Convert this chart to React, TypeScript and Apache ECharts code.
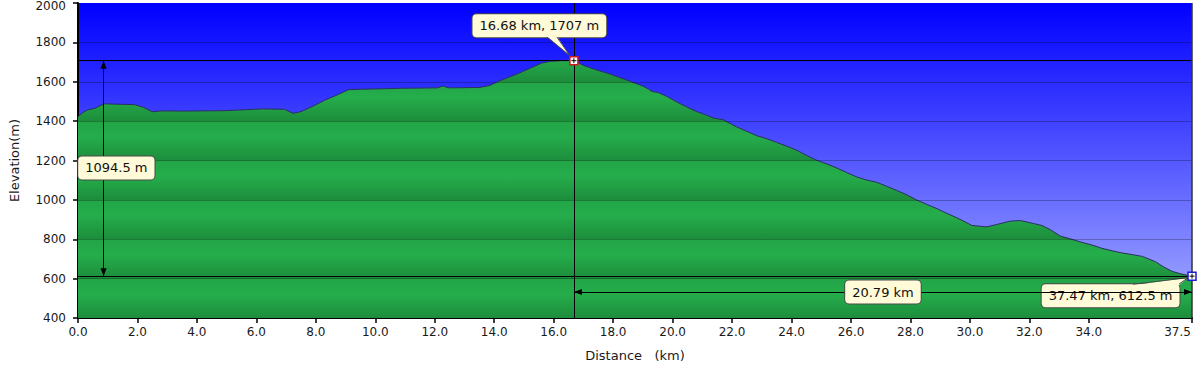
import React, { useEffect, useRef } from "react";
import * as echarts from "echarts";

// ---- data ----
const distanceKm = [
  0.0, 0.15, 0.33, 0.55, 0.72, 0.88, 1.3, 1.9, 2.2, 2.5, 2.8, 3.5, 4.2, 4.9, 5.5, 6.2, 6.95, 7.23, 7.5, 7.9,
  8.3, 8.7, 9.1, 9.5, 10.2, 10.9, 11.6, 12.1, 12.28, 12.45, 13.0, 13.5, 13.85, 14.07, 14.4, 14.75, 15.2, 15.6,
  15.9, 16.3, 16.68, 17.0, 17.4, 17.9, 18.4, 19.0, 19.2, 19.3, 19.5, 19.8, 20.13, 20.5, 20.8, 21.1, 21.37, 21.7,
  22.15, 22.5, 22.83, 23.2, 23.5, 23.85, 24.18, 24.5, 24.85, 25.2, 25.52, 25.85, 26.2, 26.5, 26.87, 27.2, 27.54,
  27.9, 28.2, 28.55, 28.9, 29.2, 29.56, 29.8, 30.07, 30.57, 30.9, 31.36, 31.7, 32.14, 32.42, 32.7, 33.04, 33.4,
  33.77, 34.1, 34.44, 34.8, 35.1, 35.5, 35.8, 36.24, 36.5, 36.8, 37.1, 37.47,
];
const elevationM = [
  1423, 1442, 1458, 1464, 1476, 1488, 1486, 1484, 1470, 1448, 1452, 1451, 1452, 1453, 1457, 1462, 1460, 1440, 1448, 1476,
  1506, 1532, 1560, 1562, 1564, 1567, 1568, 1569, 1579, 1569, 1570, 1571, 1581, 1597, 1618, 1638, 1668, 1695,
  1704, 1707, 1707, 1683, 1662, 1639, 1612, 1578, 1562, 1551, 1546, 1526, 1498, 1470, 1449, 1433, 1416, 1407,
  1371, 1348, 1326, 1309, 1292, 1272, 1252, 1226, 1201, 1182, 1162, 1139, 1116, 1102, 1089, 1069, 1048,
  1024, 1000, 977, 955, 933, 909, 891, 870, 863, 875, 892, 895, 880, 870, 849, 816, 801,
  784, 771, 754, 741, 731, 721, 713, 686, 661, 637, 624, 612.5,
];
const xTickValues = [0, 2, 4, 6, 8, 10, 12, 14, 16, 18, 20, 22, 24, 26, 28, 30, 32, 34, 37.47];
const yTickValues = [400, 600, 800, 1000, 1200, 1400, 1600, 1800, 2000];

const peakKm = 16.68;
const peakM = 1707;
const finishKm = 37.47;
const finishM = 612.5;

// annotation anchors (data units)
const climbArrowKm = 0.86;
const climbLabelKm = 1.29;
const climbLabelM = 1162;
const distArrowM = 532;

const FONT = '"DejaVu Sans", Verdana, sans-serif';

export default function App() {
  const ref = useRef<HTMLDivElement>(null);

  useEffect(() => {
    document.body.style.margin = "0";
    const el = ref.current!;
    const chart = echarts.init(el, null, { renderer: "svg" });
    const H = 368;
    const grid = { left: 77, right: 5, top: 3, bottom: 50 };
    const plotTop = grid.top;
    const plotBottom = H - grid.bottom;

    const nBands = yTickValues.length - 1;
    const bandStops: any[] = [];
    for (let i = 0; i < nBands; i++) {
      const a = i / nBands;
      const b = (i + 1) / nBands;
      bandStops.push({ offset: a + 0.0005, color: "#22a548" });
      bandStops.push({ offset: a + (b - a) * 0.4, color: "#25ad4b" });
      bandStops.push({ offset: b - 0.0005, color: "#1d8d3c" });
    }

    const gridLineStyle = { color: "rgba(0,0,0,0.26)", width: 1, type: "solid" };
    const blackLine = { color: "#000", width: 1, type: "solid" };
    const edgeLine = { color: "#333", width: 1.5, type: "solid" };
    const arrowPt = (coord: number[]) => ({
      coord,
      symbol: "triangle",
      symbolSize: [6, 8],
      symbolOffset: [0, 4],
      lineStyle: blackLine,
    });
    const plainPt = (coord: number[], ls: any) => ({ coord, symbol: "none", lineStyle: ls });
    const yMin = yTickValues[0];
    const yMax = yTickValues[yTickValues.length - 1];

    const axisText = { color: "#1a1a1a", fontFamily: FONT, fontSize: 12 };

    const option: any = {
      animation: false,
      grid: {
        ...grid,
        show: true,
        borderWidth: 0,
        backgroundColor: {
          type: "linear",
          x: 0,
          y: 0,
          x2: 0,
          y2: 1,
          colorStops: [
            { offset: 0, color: "#0000ff" },
            { offset: 1, color: "rgb(168,176,255)" },
          ],
        },
      },
      xAxis: {
        type: "value",
        min: 0,
        max: finishKm,
        name: "Distance   (km)",
        nameLocation: "middle",
        nameGap: 31,
        nameTextStyle: { color: "#1a1a1a", fontFamily: FONT, fontSize: 13 },
        axisLine: { show: true, onZero: false, lineStyle: { color: "#000", width: 2 } },
        axisTick: { show: true, length: 5, customValues: xTickValues, lineStyle: { color: "#000", width: 1.5 } },
        axisLabel: {
          ...axisText,
          margin: 8,
          customValues: xTickValues,
          formatter: (v: number) =>
            Math.abs(v - finishKm) < 1e-6 ? `{end|${v.toFixed(1)}}` : v.toFixed(1),
          rich: { end: { ...axisText, padding: [0, 29, 0, 0] } },
        },
        splitLine: { show: false },
      },
      yAxis: {
        type: "value",
        min: yMin,
        max: yMax,
        interval: 200,
        name: "Elevation(m)",
        nameLocation: "middle",
        nameGap: 57,
        nameTextStyle: { color: "#1a1a1a", fontFamily: FONT, fontSize: 13 },
        axisLine: { show: true, lineStyle: { color: "#000", width: 2 } },
        axisTick: { show: true, length: 5, lineStyle: { color: "#000", width: 1.5 } },
        axisLabel: {
          ...axisText,
          margin: 12,
          formatter: (v: number) => (v === yMax ? `{top|${v}}` : String(v)),
          rich: { top: { ...axisText, padding: [6, 0, 0, 0] } },
        },
        splitLine: { show: false },
      },
      series: [
        {
          type: "line",
          data: distanceKm.map((d, i) => [d, elevationM[i]]),
          symbol: "none",
          showSymbol: false,
          lineStyle: { color: "#2b3160", width: 1 },
          areaStyle: {
            opacity: 1,
            color: {
              type: "linear",
              x: 0,
              y: plotTop,
              x2: 0,
              y2: plotBottom,
              global: true,
              colorStops: bandStops,
            },
          },
          markLine: {
            silent: true,
            symbol: ["none", "none"],
            label: { show: false },
            lineStyle: blackLine,
            data: [
              ...yTickValues.slice(1, -1).map((v) => ({ yAxis: v, lineStyle: gridLineStyle })),
              { yAxis: peakM, lineStyle: blackLine },
              { yAxis: finishM, lineStyle: blackLine },
              [plainPt([peakKm, yMin], blackLine), plainPt([peakKm, yMax], blackLine)],
              [plainPt([finishKm, yMin], edgeLine), plainPt([finishKm, yMax], edgeLine)],
              [arrowPt([climbArrowKm, finishM]), arrowPt([climbArrowKm, peakM])],
              [arrowPt([peakKm, distArrowM]), arrowPt([finishKm, distArrowM])],
            ],
          },
        },
      ],
    };
    chart.setOption(option);

    const toPx = (p: number[]) => chart.convertToPixel({ seriesIndex: 0 }, p) as number[];
    const P = toPx([peakKm, peakM]);
    const E = toPx([finishKm, finishM]);
    const C = toPx([climbLabelKm, climbLabelM]);
    const D = toPx([(peakKm + finishKm) / 2, distArrowM]);

    const cream = "#fffad8";
    const border = "#4a4a4a";
    const boxStyle = {
      fill: "#111",
      font: `13px ${FONT}`,
      lineHeight: 15,
      backgroundColor: cream,
      borderColor: border,
      borderWidth: 1,
      borderRadius: 4,
      padding: [4, 7, 4, 7],
    };
    const fmtKm = (v: number) => v.toFixed(2) + " km";

    const marker = (pt: number[], color: string, z: number) => [
      {
        type: "rect",
        z,
        shape: { x: pt[0] - 4, y: pt[1] - 4, width: 8, height: 8 },
        style: { fill: "#fff", stroke: color, lineWidth: 1.5 },
      },
      {
        type: "line",
        z: z + 1,
        shape: { x1: pt[0] - 2.5, y1: pt[1], x2: pt[0] + 2.5, y2: pt[1] },
        style: { stroke: "#000", lineWidth: 1 },
      },
      {
        type: "line",
        z: z + 1,
        shape: { x1: pt[0], y1: pt[1] - 2.5, x2: pt[0], y2: pt[1] + 2.5 },
        style: { stroke: "#000", lineWidth: 1 },
      },
    ];

    const peakBoxTop = P[1] - 46.5;
    const peakBoxBottom = peakBoxTop + 23;
    const endBoxTop = E[1] + 8;

    const graphic: any[] = [
      // peak callout
      {
        type: "text",
        z: 10,
        x: P[0] - 101.4,
        y: peakBoxTop,
        style: { ...boxStyle, text: `${fmtKm(peakKm)}, ${peakM} m`, align: "left", verticalAlign: "top" },
      },
      {
        type: "polygon",
        z: 11,
        shape: { points: [[P[0] - 27, peakBoxBottom - 1], [P[0] - 4, P[1] - 5], [P[0] - 17, peakBoxBottom - 1]] },
        style: { fill: cream },
      },
      {
        type: "polyline",
        z: 11,
        shape: { points: [[P[0] - 27, peakBoxBottom], [P[0] - 4, P[1] - 5], [P[0] - 17, peakBoxBottom]] },
        style: { stroke: border, lineWidth: 1, fill: null },
      },
      // end callout (under the distance arrow)
      {
        type: "text",
        z: 3,
        x: E[0] - 150.3,
        y: endBoxTop,
        style: { ...boxStyle, text: `${fmtKm(finishKm)}, ${finishM} m`, align: "left", verticalAlign: "top" },
      },
      {
        type: "polygon",
        z: 4,
        shape: { points: [[E[0] - 59, endBoxTop + 1], [E[0] - 4, E[1] + 1.5], [E[0] - 13, endBoxTop + 1]] },
        style: { fill: cream },
      },
      {
        type: "polyline",
        z: 4,
        shape: { points: [[E[0] - 59, endBoxTop], [E[0] - 4, E[1] + 1.5], [E[0] - 13, endBoxTop]] },
        style: { stroke: border, lineWidth: 1, fill: null },
      },
      // climb label
      {
        type: "text",
        z: 10,
        x: C[0],
        y: C[1],
        style: {
          ...boxStyle,
          text: `${(peakM - finishM).toFixed(1)} m`,
          align: "center",
          verticalAlign: "middle",
        },
      },
      // distance label
      {
        type: "text",
        z: 10,
        x: D[0],
        y: D[1],
        style: {
          ...boxStyle,
          text: fmtKm(finishKm - peakKm),
          align: "center",
          verticalAlign: "middle",
        },
      },
      ...marker(P, "#d01818", 12),
      ...marker(E, "#1c1cd0", 12),
    ];
    chart.setOption({ graphic });

    return () => chart.dispose();
  }, []);

  return <div ref={ref} style={{ width: 1197, height: 368 }} />;
}
